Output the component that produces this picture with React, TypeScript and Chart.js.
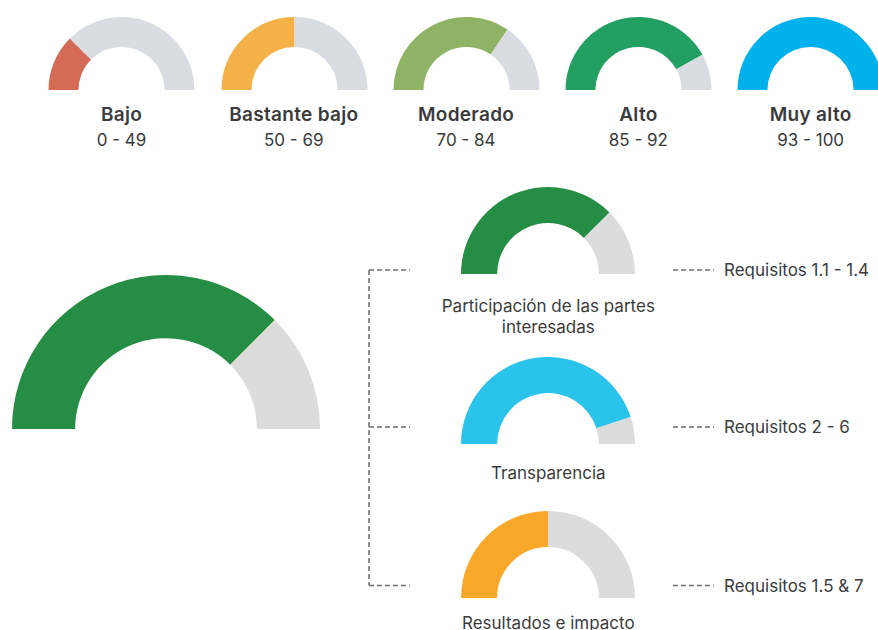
import React, { useEffect, useRef } from "react";
import { Chart, registerables } from "chart.js";

Chart.register(...registerables);

// ---- Data ----
const levelNames = ["Bajo", "Bastante bajo", "Moderado", "Alto", "Muy alto"];
const levelRanges = ["0 - 49", "50 - 69", "70 - 84", "85 - 92", "93 - 100"];
const levelValues = [25, 50, 69, 84, 100];
const levelColors = ["#D66B55", "#F4B148", "#8FB364", "#22A063", "#00B1EC"];

const overallValue = 75;
const overallColor = "#268D45";

const dimensionNames = [
  ["Participación de las partes", "interesadas"],
  ["Transparencia"],
  ["Resultados e impacto"],
];
const dimensionValues = [75, 90, 50];
const dimensionColors = ["#268D45", "#2AC3EB", "#F9A82A"];
const requirementLabels = ["Requisitos 1.1 - 1.4", "Requisitos 2 - 6", "Requisitos 1.5 & 7"];

const MAX = 100;
const TRACK_TOP = "#D9DCE1";
const TRACK_BOTTOM = "#DCDCDC";

const FONT = "Inter, 'Open Sans', sans-serif";
const TEXT = "#3b3b3b";

type GaugeProps = {
  cx: number;
  baseY: number;
  r: number;
  value: number;
  color: string;
  track: string;
  cutout: string;
};

function Gauge({ cx, baseY, r, value, color, track, cutout }: GaugeProps) {
  const ref = useRef<HTMLCanvasElement | null>(null);
  const w = Math.round(2 * r);
  const h = Math.round(r);
  useEffect(() => {
    if (!ref.current) return;
    const chart = new Chart(ref.current, {
      type: "doughnut",
      data: {
        labels: ["valor", "resto"],
        datasets: [
          {
            data: [value, MAX - value],
            backgroundColor: [color, track],
            borderWidth: 0,
          },
        ],
      },
      options: {
        responsive: false,
        animation: false,
        events: [],
        rotation: -90,
        circumference: 180,
        cutout,
        layout: { padding: 0 },
        plugins: { legend: { display: false }, tooltip: { enabled: false } },
      },
    });
    return () => chart.destroy();
  }, [value, color, track, cutout]);
  return (
    <canvas
      ref={ref}
      width={w}
      height={h}
      style={{
        position: "absolute",
        left: Math.round(cx - r),
        top: Math.round(baseY) - h,
        width: w,
        height: h,
      }}
    />
  );
}

function Label({
  x,
  y,
  text,
  size,
  bold,
  align,
}: {
  x: number;
  y: number;
  text: string;
  size: number;
  bold?: boolean;
  align?: "center" | "left";
}) {
  const center = align !== "left";
  return (
    <div
      style={{
        position: "absolute",
        left: x,
        top: y,
        transform: center ? "translate(-50%, -50%)" : "translate(0, -50%)",
        whiteSpace: "nowrap",
        fontFamily: FONT,
        fontSize: size,
        fontWeight: bold ? 600 : 400,
        letterSpacing: bold ? 0.3 : 0,
        color: TEXT,
        lineHeight: 1,
      }}
    >
      {text}
    </div>
  );
}

export default function App() {
  const topR = 73.3;
  const topBase = 90;
  const topX0 = 121.5;
  const topStep = 172.3;

  const midX = 548.3;
  const midR = 86.8;
  const midBases = [274.3, 444, 597.7];
  const labelYs = [[306, 327], [473], [623]];
  const connY = [270, 427, 585.5];

  return (
    <div
      style={{
        position: "fixed",
        left: 0,
        top: 0,
        width: 878,
        height: 630,
        overflow: "hidden",
        background: "#ffffff",
      }}
    >
      {levelNames.map((name, i) => (
        <React.Fragment key={name}>
          <Gauge
            cx={topX0 + i * topStep}
            baseY={topBase}
            r={topR}
            value={levelValues[i]}
            color={levelColors[i]}
            track={TRACK_TOP}
            cutout="59%"
          />
          <Label x={topX0 + i * topStep} y={114} text={name} size={19} bold />
          <Label x={topX0 + i * topStep} y={140} text={levelRanges[i]} size={17} />
        </React.Fragment>
      ))}

      <Gauge
        cx={166}
        baseY={428.5}
        r={154}
        value={overallValue}
        color={overallColor}
        track={TRACK_BOTTOM}
        cutout="59%"
      />

      {dimensionNames.map((lines, i) => (
        <React.Fragment key={i}>
          <Gauge
            cx={midX}
            baseY={midBases[i]}
            r={midR}
            value={dimensionValues[i]}
            color={dimensionColors[i]}
            track={TRACK_BOTTOM}
            cutout="58.5%"
          />
          {lines.map((ln, j) => (
            <Label key={j} x={midX} y={labelYs[i][j]} text={ln} size={17} />
          ))}
          <Label x={724} y={connY[i]} text={requirementLabels[i]} size={17} align="left" />
        </React.Fragment>
      ))}

      <svg
        width={878}
        height={630}
        style={{ position: "absolute", left: 0, top: 0, pointerEvents: "none" }}
      >
        <g stroke="#6e6e6e" strokeWidth={1.5} strokeDasharray="5 3" fill="none">
          <line x1={369} y1={connY[0]} x2={369} y2={connY[2]} />
          {connY.map((y, i) => (
            <React.Fragment key={i}>
              <line x1={369} y1={y} x2={410} y2={y} />
              <line x1={673} y1={y} x2={714} y2={y} />
            </React.Fragment>
          ))}
        </g>
      </svg>
    </div>
  );
}
